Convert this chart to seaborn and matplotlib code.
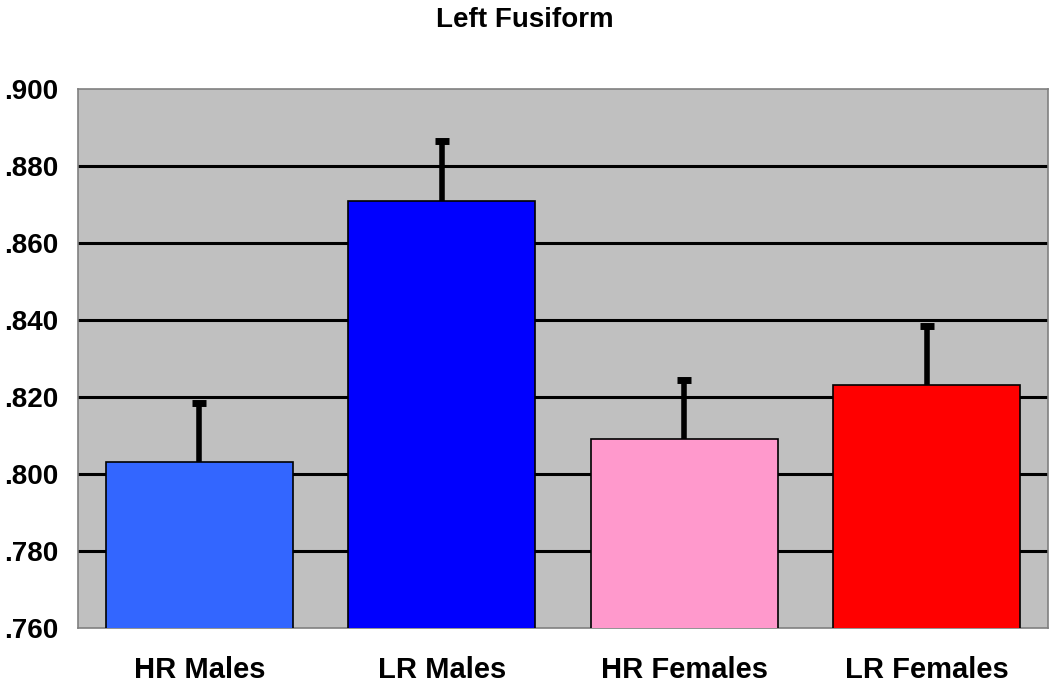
import matplotlib
matplotlib.use("Agg")
import matplotlib.pyplot as plt
import numpy as np
import pandas as pd
import seaborn as sns
from matplotlib.ticker import FuncFormatter

# Data
groups = ["HR Males", "LR Males", "HR Females", "LR Females"]
means = [0.803, 0.871, 0.809, 0.823]
errors = [0.0155, 0.0155, 0.0155, 0.0155]
colors = ["#3366FF", "#0000FF", "#FF99CC", "#FF0000"]

sns.set_style("white")
plt.rcParams['font.family'] = ['Liberation Sans', 'DejaVu Sans']
plt.rcParams['font.weight'] = 'bold'
plt.rcParams['text.color'] = 'black'
plt.rcParams['xtick.color'] = 'black'
plt.rcParams['ytick.color'] = 'black'

df = pd.DataFrame({"group": groups, "value": means})

fig = plt.figure(figsize=(10.5, 6.82), dpi=100)
ax = fig.add_axes([0.0743, 0.0792, 0.9237, 0.7903])
ax.set_facecolor("#C0C0C0")

sns.barplot(data=df, x="group", y="value", hue="group", palette=colors,
            order=groups, hue_order=groups, width=0.77, edgecolor="black",
            linewidth=1.2, saturation=1, legend=False, errorbar=None, ax=ax, zorder=3)

# upper error bars only
eb = ax.errorbar(np.arange(len(groups)), means, yerr=[np.zeros(len(errors)), errors],
                 fmt="none", ecolor="black", elinewidth=4, capsize=5, capthick=5, zorder=4)
eb.lines[1][0].set_visible(False)  # hide lower caps

ax.set_ylim(0.76, 0.90)
ax.set_xlim(-0.5, 3.5)
ax.set_yticks(np.arange(0.76, 0.9001, 0.02))
ax.yaxis.set_major_formatter(FuncFormatter(lambda v, _: ('%.3f' % v)[1:]))
for y in np.arange(0.78, 0.8801, 0.02):
    ax.axhline(y, color="black", linewidth=2.2, zorder=1)

for s in ax.spines.values():
    s.set_color("#808080")
    s.set_linewidth(1.2)

ax.set_xticks([-0.5, 0.5, 1.5, 2.5, 3.5], minor=True)
ax.tick_params(axis="x", which="major", length=0, pad=20, labelsize=21)
ax.tick_params(axis="x", which="minor", length=7, color="#808080", width=1.2)
ax.tick_params(axis="y", length=7, color="#808080", labelcolor="black", width=1.2,
               labelsize=20, pad=7)
for lab in ax.get_xticklabels() + ax.get_yticklabels():
    lab.set_fontweight("bold")

ax.set_xlabel("")
ax.set_ylabel("")
fig.suptitle("Left Fusiform", y=0.99, fontsize=20, fontweight="bold", color="black")

fig.savefig("out.png", dpi=100)
